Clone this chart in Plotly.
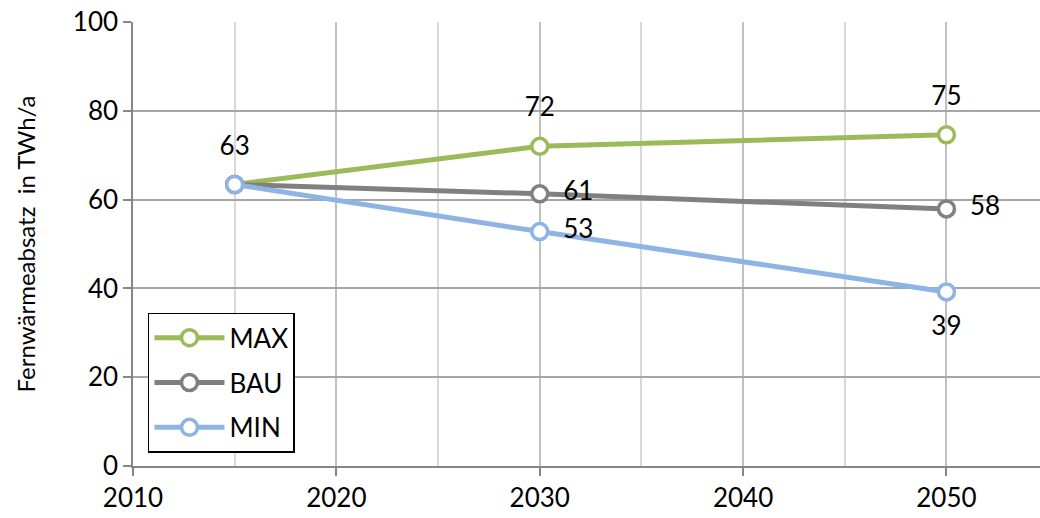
import plotly.graph_objects as go

years = [2015, 2030, 2050]
max_vals = [63.4, 72.0, 74.6]
bau_vals = [63.4, 61.3, 57.9]
min_vals = [63.4, 52.8, 39.2]
max_labels = ["63", "72", "75"]
bau_labels = ["", "61", "58"]
min_labels = ["", "53", "39"]
y_ticks = [0, 20, 40, 60, 80, 100]
x_ticks = [2010, 2020, 2030, 2040, 2050]

colors = {"MAX": "#9BBB59", "BAU": "#808080", "MIN": "#8DB4E2"}
FONT = "Lato, 'Open Sans', sans-serif"
FS = 26

fig = go.Figure()

specs = [
    ("MAX", max_vals, max_labels, ["top center", "top center", "top center"]),
    ("BAU", bau_vals, bau_labels, ["middle right", "middle right", "middle right"]),
    ("MIN", min_vals, min_labels, ["middle right", "middle right", "bottom center"]),
]

for name, vals, labels, pos in specs:
    fig.add_trace(go.Scatter(
        x=years, y=vals, name=name, mode="lines+markers",
        line=dict(color=colors[name], width=5),
        marker=dict(symbol="circle", size=16, color="#FFFFFF",
                    line=dict(color=colors[name], width=3.5)),
        legendgroup=name, cliponaxis=False,
    ))

# data labels (invisible large markers provide the label offset)
for name, vals, labels, pos in specs:
    fig.add_trace(go.Scatter(
        x=years, y=vals, mode="markers+text", showlegend=False,
        text=labels, textposition=pos,
        textfont=dict(size=FS, color="#000000", family=FONT),
        marker=dict(size=36, color="rgba(0,0,0,0)"),
        hoverinfo="skip", cliponaxis=False,
    ))

fig.update_layout(
    width=1040, height=518,
    margin=dict(l=133, r=0, t=22, b=52),
    paper_bgcolor="#FFFFFF", plot_bgcolor="#FFFFFF",
    font=dict(family=FONT, size=FS, color="#000000"),
    showlegend=True,
    legend=dict(
        x=0.0165, y=0.345, xanchor="left", yanchor="top",
        bgcolor="#FFFFFF", bordercolor="#000000", borderwidth=1.5,
        font=dict(size=FS, family=FONT), traceorder="grouped",
        tracegroupgap=8, itemwidth=70,
    ),
    xaxis=dict(
        range=[2010, 2054.6], tickmode="array", tickvals=x_ticks,
        ticks="outside", ticklen=8, tickcolor="#868686", tickwidth=1.5,
        showline=True, linecolor="#868686", linewidth=1.5,
        showgrid=True, gridcolor="#C0C0C0", gridwidth=1.5,
        minor=dict(dtick=5, tick0=2010, showgrid=True, gridcolor="#D9D9D9", gridwidth=1.5),
        zeroline=False, tickfont=dict(size=FS, family=FONT),
    ),
    yaxis=dict(
        range=[0, 100], tickmode="array", tickvals=y_ticks,
        ticks="outside", ticklen=8, tickcolor="#868686", tickwidth=1.5,
        showline=True, linecolor="#868686", linewidth=1.5,
        showgrid=True, gridcolor="#A6A6A6", gridwidth=1.5,
        zeroline=False, tickfont=dict(size=FS, family=FONT),
        title=dict(text="Fernwärmeabsatz  in TWh/a", font=dict(size=24, family=FONT), standoff=30),
    ),
)

fig.write_html("out.html")
